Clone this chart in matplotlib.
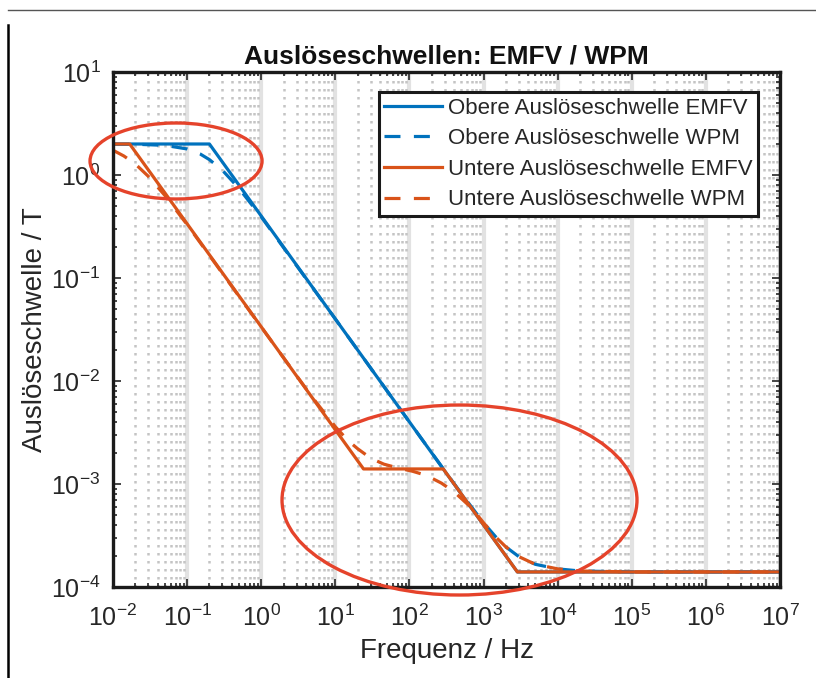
import matplotlib

matplotlib.use("Agg")
import matplotlib.pyplot as plt
from matplotlib.patches import Ellipse
from matplotlib.lines import Line2D
from matplotlib.ticker import LogLocator, NullFormatter

plt.rcParams["font.family"] = ["Liberation Sans", "DejaVu Sans"]
plt.rcParams["mathtext.fontset"] = "custom"
plt.rcParams["mathtext.rm"] = "Liberation Sans"
plt.rcParams["mathtext.it"] = "Liberation Sans"
plt.rcParams["axes.unicode_minus"] = False

# data (Frequenz in Hz, Schwelle in T)
f_obere_emfv = [1e-2, 0.2, 2860, 1e7]
b_obere_emfv = [2.0, 2.0, 1.4e-4, 1.4e-4]

f_obere_wpm = [0.01, 0.02, 0.05, 0.1, 0.15, 0.2, 0.3, 0.5, 1, 10, 100, 300, 500,
               1000, 1500, 2000, 3000, 5000, 1e4, 2e4, 1e5, 1e7]
b_obere_wpm = [1.99, 1.99, 1.94, 1.79, 1.60, 1.41, 1.11, 0.743, 0.392, 0.04, 4.0e-3,
               1.34e-3, 8.1e-4, 4.2e-4, 3.0e-4, 2.45e-4, 1.97e-4, 1.66e-4, 1.50e-4,
               1.43e-4, 1.4e-4, 1.4e-4]

f_untere_emfv = [1e-2, 0.0168, 24, 286, 2860, 1e7]
b_untere_emfv = [2.0, 2.0, 1.4e-3, 1.4e-3, 1.4e-4, 1.4e-4]

f_untere_wpm = [0.01, 0.014, 0.02, 0.03, 0.05, 0.1, 1, 5, 10, 15, 20, 30, 45, 70, 110,
                170, 270, 400, 550, 700, 1000, 1500, 2000, 3000, 5000, 1e4, 2e4, 1e5, 1e7]
b_untere_wpm = [1.74, 1.53, 1.28, 0.97, 0.634, 0.33, 0.0334, 6.8e-3, 3.6e-3, 2.62e-3,
                2.2e-3, 1.78e-3, 1.56e-3, 1.43e-3, 1.33e-3, 1.21e-3, 1.02e-3, 8.4e-4,
                6.8e-4, 5.8e-4, 4.2e-4, 3.0e-4, 2.45e-4, 1.97e-4, 1.66e-4, 1.50e-4,
                1.43e-4, 1.4e-4, 1.4e-4]

labels = [
    "Obere Auslöseschwelle EMFV",
    "Obere Auslöseschwelle WPM",
    "Untere Auslöseschwelle EMFV",
    "Untere Auslöseschwelle WPM",
]

blue = "#0072BD"
orange = "#D95319"
red = "#E5432B"
txt = "#262626"

fig = plt.figure(figsize=(8.16, 6.78), dpi=100)
ax = fig.add_axes([113 / 816, 1 - 587 / 678, 667 / 816, 515 / 678])

lw = 2.3
dash = (5.0, 4.2)
ax.plot(f_obere_emfv, b_obere_emfv, color=blue, lw=lw, label=labels[0])
ax.plot(f_obere_wpm, b_obere_wpm, color=blue, lw=lw, ls="--", dashes=dash, label=labels[1])
ax.plot(f_untere_emfv, b_untere_emfv, color=orange, lw=lw, label=labels[2])
ax.plot(f_untere_wpm, b_untere_wpm, color=orange, lw=lw, ls="--", dashes=dash, label=labels[3])

ax.set_xscale("log")
ax.set_yscale("log")
ax.set_xlim(1e-2, 1e7)
ax.set_ylim(1e-4, 1e1)
ax.xaxis.set_major_locator(LogLocator(base=10, numticks=20))
ax.xaxis.set_minor_locator(LogLocator(base=10, subs=range(2, 10), numticks=100))
ax.xaxis.set_minor_formatter(NullFormatter())
ax.yaxis.set_minor_locator(LogLocator(base=10, subs=range(2, 10), numticks=100))
ax.yaxis.set_minor_formatter(NullFormatter())

# MATLAB-like grid: light major lines on x, dotted minor lines on x
ax.grid(True, which="major", axis="x", color="#e2e2e2", lw=3.0, ls="-")
ax.grid(True, which="minor", axis="x", color="#c4c4c4", lw=1.8, ls=(0, (1.0, 2.2)))
ax.set_axisbelow(True)

ax.tick_params(which="both", direction="in", top=True, right=True, colors=txt,
               labelsize=18, width=1.2)
ax.tick_params(which="major", length=6)
ax.tick_params(which="minor", length=3)
ax.tick_params(axis="x", which="major", pad=13)
ax.tick_params(axis="y", which="major", pad=9)
for sp in ax.spines.values():
    sp.set_linewidth(2.4)
    sp.set_color("#1a1a1a")

ax.set_title("Auslöseschwellen: EMFV / WPM", fontsize=19, fontweight="bold", color="#111111", pad=6)
ax.set_xlabel("Frequenz / Hz", fontsize=20, color=txt, labelpad=5)
ax.set_ylabel("Auslöseschwelle / T", fontsize=20, color=txt, labelpad=2)

leg = ax.legend(loc="upper right", bbox_to_anchor=(0.967, 0.961), borderaxespad=0,
                fontsize=16, handlelength=2.6, handletextpad=0.25, labelspacing=0.43,
                borderpad=0.25, fancybox=False, framealpha=1)
leg.get_frame().set_edgecolor("#1a1a1a")
leg.get_frame().set_linewidth(2.2)
for t in leg.get_texts():
    t.set_color(txt)

# red ellipses marking the corner regions (axes fraction)
for cx, cy, w, h in [(0.0945, 0.8272, 0.2579, 0.1476), (0.5195, 0.1689, 0.5322, 0.3689)]:
    ax.add_patch(Ellipse((cx, cy), w, h, transform=ax.transAxes, fill=False,
                         edgecolor=red, lw=2.4, clip_on=False, zorder=5))

# frame remnants of the screenshot
fig.add_artist(Line2D([8 / 816, 1], [1 - 9.5 / 678, 1 - 9.5 / 678], color="#555555", lw=1.0))
fig.add_artist(Line2D([8 / 816, 8 / 816], [0, 1 - 25 / 678], color="black", lw=1.8))

fig.savefig("out.png", dpi=100)
